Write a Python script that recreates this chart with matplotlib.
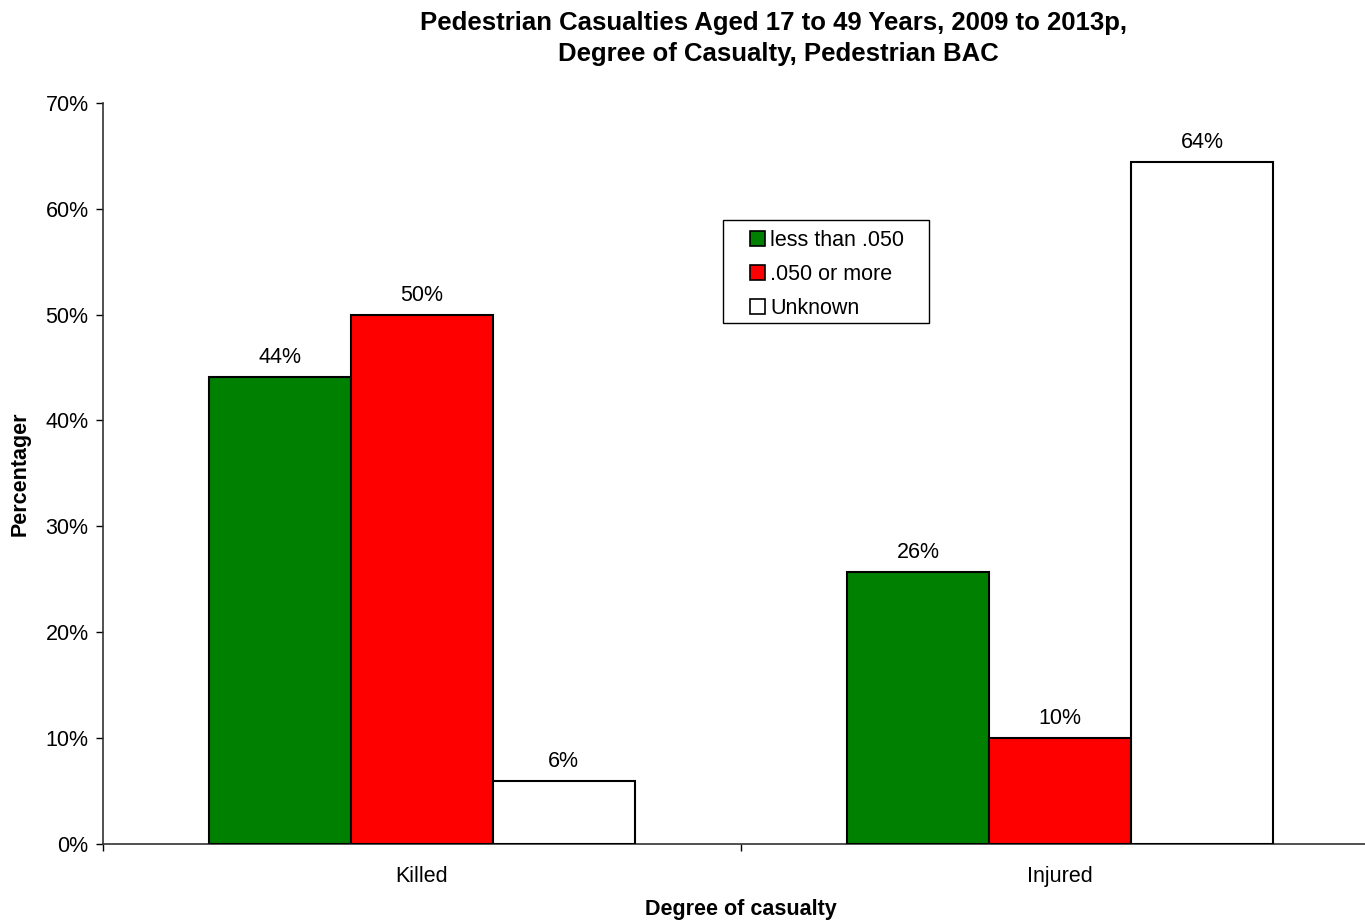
import matplotlib
matplotlib.use("Agg")
import matplotlib.pyplot as plt
from matplotlib.patches import Rectangle
from matplotlib.ticker import FuncFormatter, FixedLocator
import numpy as np

plt.rcParams["font.family"] = ["Liberation Sans", "DejaVu Sans"]

categories = ["Killed", "Injured"]
series_names = ["less than .050", ".050 or more", "Unknown"]
less_than_050 = [44.1, 25.7]
over_050 = [50.0, 10.0]
unknown = [5.9, 64.4]
series_values = [less_than_050, over_050, unknown]
colors = ["#008000", "#FF0000", "#FFFFFF"]

W, H = 1365, 922
FS = 15.5

fig = plt.figure(figsize=(W / 100, H / 100), dpi=100)
ax = fig.add_axes([102.5 / W, 1 - 843.5 / H, 1277 / W, 740.5 / H])

x = np.arange(len(categories))
width = 0.2224
for i, (name, vals, col) in enumerate(zip(series_names, series_values, colors)):
    pos = x + (i - 1) * width
    bars = ax.bar(pos, vals, width, color=col, edgecolor="black",
                  linewidth=1.5, label=name, zorder=3)
    for b, v in zip(bars, vals):
        ax.annotate(f"{v:.0f}%", (b.get_x() + b.get_width() / 2, v),
                    xytext=(0, 6.5), textcoords="offset points",
                    ha="center", va="bottom", fontsize=FS)

ax.set_xlim(-0.5, 1.5)
ax.set_ylim(0, 70)
ax.yaxis.set_major_locator(FixedLocator(np.arange(0, 71, 10)))
ax.yaxis.set_major_formatter(FuncFormatter(lambda v, p: f"{v:.0f}%"))
ax.tick_params(axis="y", labelsize=FS, length=5, width=1, direction="out", pad=5)

ax.set_xticks([-0.5, 0.5, 1.5])
ax.set_xticklabels([])
ax.set_xticks(x, minor=True)
ax.set_xticklabels(categories, minor=True)
ax.tick_params(axis="x", which="major", length=5, width=1, direction="out")
ax.tick_params(axis="x", which="minor", length=0, labelsize=FS, pad=16)

for side in ["top", "right"]:
    ax.spines[side].set_visible(False)
for side in ["left", "bottom"]:
    ax.spines[side].set_color("#333333")
    ax.spines[side].set_linewidth(1.2)

# axis titles
fig.text(20 / W, 1 - 473.5 / H, "Percentager", rotation=90, ha="center",
         va="center", fontsize=FS, fontweight="bold")
fig.text(741 / W, 1 - 915 / H, "Degree of casualty", ha="center",
         va="baseline", fontsize=FS, fontweight="bold")

# two-line chart title
fig.text(774 / W, 1 - 30 / H,
         "Pedestrian Casualties Aged 17 to 49 Years, 2009 to 2013p,",
         ha="center", va="baseline", fontsize=18.5, fontweight="bold")
fig.text(778 / W, 1 - 61 / H, "Degree of Casualty, Pedestrian BAC",
         ha="center", va="baseline", fontsize=18.5, fontweight="bold")

# plain square frame behind the legend entries
frame = Rectangle((723 / W, 1 - 323 / H), 206 / W, 103 / H,
                  transform=fig.transFigure, facecolor="white",
                  edgecolor="black", linewidth=1.0, zorder=6, clip_on=False)
ax.add_artist(frame)

leg = ax.legend(loc="upper left",
                bbox_to_anchor=(750 / W, 1 - 230 / H),
                bbox_transform=fig.transFigure,
                frameon=False, fontsize=FS,
                handlelength=0.7, handleheight=0.7, handletextpad=0.25,
                borderpad=0, labelspacing=0.6, borderaxespad=0)
leg.set_zorder(7)
for h in leg.legend_handles:
    h.set_linewidth(1.2)

fig.savefig("out.png", dpi=100)
